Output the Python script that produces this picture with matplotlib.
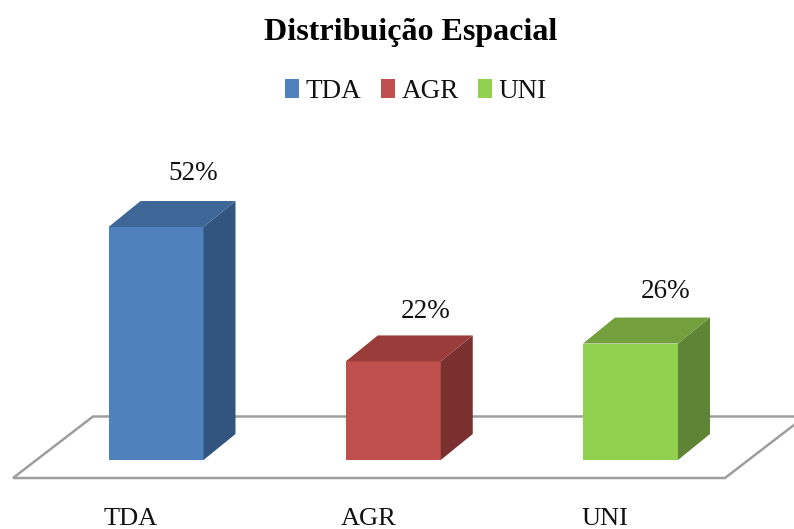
import matplotlib
matplotlib.use("Agg")
import matplotlib.pyplot as plt
from matplotlib.patches import Polygon, Patch

categories = ["TDA", "AGR", "UNI"]
values = [52, 22, 26]
labels = ["52%", "22%", "26%"]
front = ["#4F81BD", "#C0504D", "#92D050"]
side = ["#31557F", "#7A302E", "#5F8435"]
top = ["#3E6797", "#9A3D3A", "#739F3D"]

W, H = 794, 529
plt.rcParams["font.family"] = ["Liberation Serif", "DejaVu Serif"]
fig = plt.figure(figsize=(W / 100, H / 100), dpi=100)
ax = fig.add_axes([0, 0, 1, 1])

# scale: pixels per category step and per percent point
PX_X, PX_Y = 237.25, 4.48
X0, Y0 = 156, 460
ax.set_xlim(-X0 / PX_X, (W - X0) / PX_X)
ax.set_ylim(-(H - Y0) / PX_Y, Y0 / PX_Y)
ax.axis("off")

bar_w = 95 / PX_X
dx, dy = 32 / PX_X, 26 / PX_Y

# floor
fx0, fx1 = -143 / PX_X, 569 / PX_X
fy0, fy1 = -18 / PX_Y, 43.5 / PX_Y
fs = 80 / PX_X
ax.add_patch(Polygon([(fx0, fy0), (fx1, fy0), (fx1 + fs, fy1), (fx0 + fs, fy1)],
                     closed=True, facecolor="white", edgecolor="#9E9E9E", lw=1.8, zorder=1))

xs = range(len(categories))
ax.bar(xs, values, width=bar_w, color=front, zorder=3)
for x, v, s, t, lab, lx, ly in zip(xs, values, side, top, labels, [37, 32, 35], [28, 24, 26]):
    r, l = x + bar_w / 2, x - bar_w / 2
    ax.add_patch(Polygon([(r, 0), (r + dx, dy), (r + dx, v + dy), (r, v)],
                         closed=True, facecolor=s, edgecolor="none", zorder=3))
    ax.add_patch(Polygon([(l, v), (l + dx, v + dy), (r + dx, v + dy), (r, v)],
                         closed=True, facecolor=t, edgecolor="none", zorder=3))
    ax.text(x + lx / PX_X, v + dy + ly / PX_Y, lab, ha="center", va="center",
            fontsize=19.5, color="#111111", zorder=4)

for x, c, off in zip(xs, categories, [-25, -25, -26]):
    ax.text(x + off / PX_X, -(519 - Y0) / PX_Y, c, ha="center", va="center",
            fontsize=19, color="#111111")

fig.text(411 / W, 1 - 32.5 / H, "Distribuição Espacial", ha="center", va="center",
         fontsize=23, fontweight="bold", color="black")

handles = [Patch(facecolor=c, edgecolor="none") for c in front]
fig.legend(handles, categories, loc="center", bbox_to_anchor=(416 / W, 1 - 91 / H),
           ncol=3, frameon=False, fontsize=19.5, handlelength=0.5, handleheight=0.7,
           handletextpad=0.25, columnspacing=0.72, labelcolor="#111111")

fig.savefig("out.png", dpi=100)
